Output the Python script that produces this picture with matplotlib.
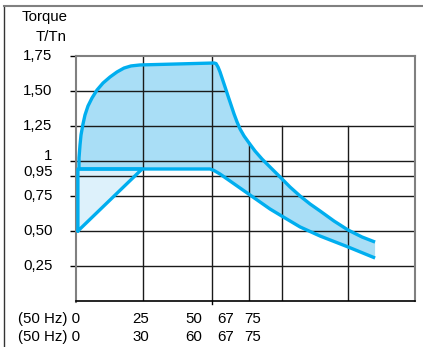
import matplotlib
matplotlib.use("Agg")
import matplotlib.pyplot as plt
import matplotlib.transforms as mtransforms
from matplotlib.lines import Line2D

plt.rcParams['font.family'] = ['Liberation Sans', 'DejaVu Sans']

# ---------------- data ----------------
# upper torque limit (transient overtorque)
upper_x = [1.10, 1.10, 1.47, 1.84, 2.57, 3.31, 4.41, 5.88, 7.72, 9.93, 12.50,
           15.07, 17.65, 20.22, 23.53, 50.74,
           51.47, 52.21, 52.94, 53.68, 54.78, 55.88, 56.99, 58.09, 59.19,
           60.29, 61.76, 63.60, 65.81, 68.38, 71.32, 75.00, 78.68, 82.35,
           86.03, 89.71, 94.85, 100.00, 105.15, 109.93]
upper_y = [0.943, 1.021, 1.114, 1.186, 1.264, 1.329, 1.393, 1.450, 1.507,
           1.557, 1.600, 1.636, 1.664, 1.679, 1.686, 1.700,
           1.696, 1.671, 1.636, 1.593, 1.529, 1.464, 1.400, 1.336, 1.279,
           1.229, 1.179, 1.129, 1.071, 1.014, 0.957, 0.886, 0.814, 0.750,
           0.693, 0.643, 0.571, 0.507, 0.457, 0.421]
# continuous torque limit
lower_x = [1.10, 49.26, 50.74, 52.94, 56.62, 60.29, 63.97, 67.65, 71.32,
           75.00, 82.35, 89.71, 100.00, 109.93]
lower_y = [0.943, 0.943, 0.932, 0.907, 0.857, 0.807, 0.757, 0.707, 0.657,
           0.614, 0.529, 0.464, 0.386, 0.307]
# self-ventilated motor zone (triangle)
tri_x = [0.7, 0.7, 24.3]
tri_y = [0.50, 0.943, 0.943]

# axis texts
ytick_labels = ["0,25", "0,50", "0,75", "0,95", "1", "1,25", "1,50", "1,75"]
ytick_pos = [0.25, 0.50, 0.75, 0.893, 1.0, 1.25, 1.50, 1.75]
xlab_row1 = ["25", "50", "67", "75"]
xlab_row2 = ["30", "60", "67", "75"]
xlab_pos = [23.9, 43.4, 55.1, 65.1]
vgrid_pos = [24.6, 50.0, 63.6, 75.7, 100.0]
vgrid_top = [1.75, 1.75, 1.13, 1.25, 1.25]

W, H = 423, 347
fig = plt.figure(figsize=(W / 100, H / 100), dpi=100)
L, R, B, T = 76, 415, 301, 56
ax = fig.add_axes([L / W, (H - B) / H, (R - L) / W, (B - T) / H])
XMAX = 124.6
ax.set_xlim(0, XMAX)
ax.set_ylim(0, 1.75)
for s in ax.spines.values():
    s.set_visible(False)
ax.set_xticks([])
ax.set_yticks(ytick_pos)
ax.set_yticklabels([])
ax.tick_params(axis='y', length=4, width=1, color='black')

blue = '#00AEEF'
fill_dark = '#A9DEF6'
fill_light = '#DDF1FB'

# dark band
poly_x = upper_x + lower_x[::-1]
poly_y = upper_y + lower_y[::-1]
ax.fill(poly_x, poly_y, color=fill_dark, lw=0, zorder=0.5)

# grid lines
gcol = '#1a1a1a'
ax.axhline(0.75, color=gcol, lw=1.0, zorder=1)
for yv in [0.25, 0.50, 0.893, 1.0, 1.25]:
    ax.axhline(yv, color=gcol, lw=1.0, zorder=2)
ax.plot([0, 54.9], [1.5, 1.5], color=gcol, lw=1.0, zorder=2)
for xv, yt in zip(vgrid_pos, vgrid_top):
    ax.plot([xv, xv], [0, yt], color=gcol, lw=1.0, zorder=2)
# frame of plot
ax.plot([0, XMAX], [1.75, 1.75], color='#808080', lw=1.5, zorder=2, clip_on=False)
ax.plot([XMAX, XMAX], [0, 1.75], color='#808080', lw=1.5, zorder=2, clip_on=False)
ax.plot([0, 0], [-0.01, 1.75], color='#808080', lw=1.5, zorder=2, clip_on=False)
ax.plot([0, XMAX], [0, 0], color='black', lw=1.2, zorder=2, clip_on=False)
ax.plot([50, 50], [-0.02, 0], color='black', lw=1.0, zorder=2, clip_on=False)

# light triangle
ax.fill(tri_x, tri_y, color=fill_light, lw=0, zorder=1.5)
ax.plot(tri_x + [tri_x[0]], tri_y + [tri_y[0]], color=blue, lw=2.4,
        zorder=3, solid_joinstyle='round', solid_capstyle='round', clip_on=False)

# curves
ax.plot(upper_x, upper_y, color=blue, lw=2.4, zorder=3,
        solid_joinstyle='round', solid_capstyle='butt')
ax.plot(lower_x, lower_y, color=blue, lw=2.4, zorder=3,
        solid_joinstyle='round', solid_capstyle='butt')

# y labels
fs = 10.8
label_off = {"1": 0.035, "0,95": 0.025}
for lab, yv in zip(ytick_labels, ytick_pos):
    ax.text(-8.6, yv + label_off.get(lab, 0), lab, ha='right', va='center',
            fontsize=fs, clip_on=False)

fig.text(68 / W, 1 - 17 / H, "Torque", ha='right', va='center', fontsize=fs)
fig.text(67 / W, 1 - 37 / H, "T/Tn", ha='right', va='center', fontsize=fs)
fig.text(80 / W, 1 - 319 / H, "(50 Hz) 0", ha='right', va='center', fontsize=fs)
fig.text(80 / W, 1 - 337 / H, "(50 Hz) 0", ha='right', va='center', fontsize=fs)

trans = mtransforms.blended_transform_factory(ax.transData, fig.transFigure)
for lab1, lab2, xp in zip(xlab_row1, xlab_row2, xlab_pos):
    ax.text(xp, 1 - 319 / H, lab1, ha='center', va='center', fontsize=fs,
            transform=trans, clip_on=False)
    ax.text(xp, 1 - 337 / H, lab2, ha='center', va='center', fontsize=fs,
            transform=trans, clip_on=False)

# outer frame
fig.add_artist(Line2D([4 / W, 4 / W], [0, 1 - 6 / H], transform=fig.transFigure,
                      color='#333333', lw=1.0))
fig.add_artist(Line2D([4 / W, 1], [1 - 6 / H, 1 - 6 / H], transform=fig.transFigure,
                      color='#808080', lw=1.5))

fig.savefig("out.png", dpi=100)
